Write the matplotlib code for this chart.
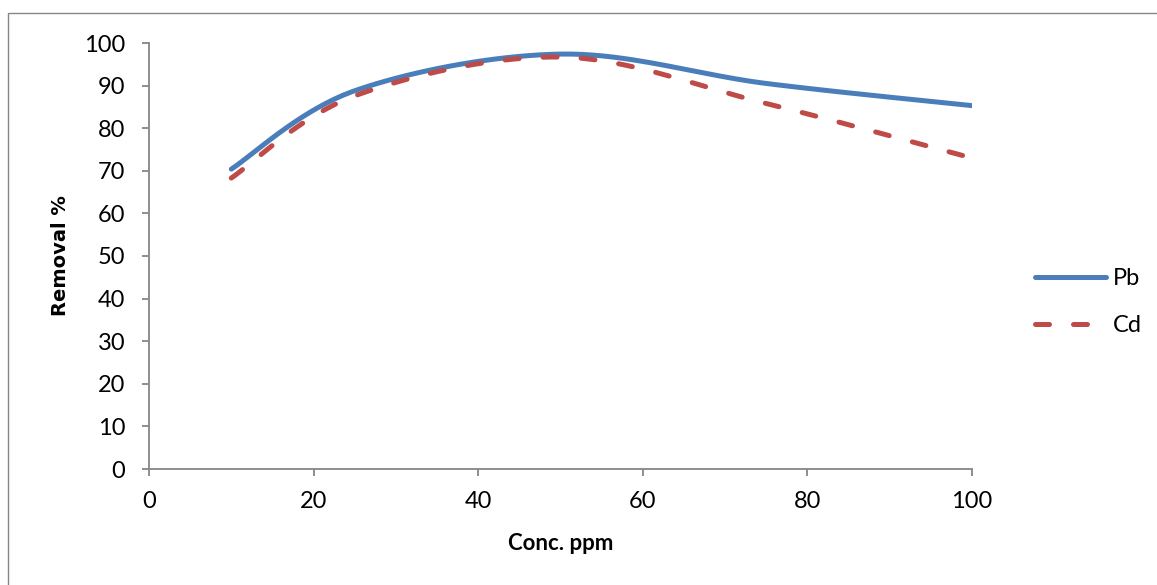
import numpy as np
import matplotlib
matplotlib.use("Agg")
import matplotlib.pyplot as plt
from matplotlib.patches import Rectangle

conc = [10, 25, 50, 75, 100]
pb = [70.4, 88.8, 97.4, 90.5, 85.3]
cd = [68.3, 87.6, 96.7, 85.8, 73.0]
xticks = [0, 20, 40, 60, 80, 100]
yticks = list(range(0, 101, 10))

plt.rcParams['font.family'] = ['Lato', 'DejaVu Sans']


def smooth(x, y, n=40):
    # Excel-style smoothed line (Catmull-Rom Bezier)
    x = np.asarray(x, float); y = np.asarray(y, float)
    px = np.concatenate([[x[0]], x, [x[-1]]])
    py = np.concatenate([[y[0]], y, [y[-1]]])
    xs, ys = [], []
    t = np.linspace(0, 1, n)
    for i in range(1, len(px) - 2):
        p0 = np.array([px[i], py[i]])
        p3 = np.array([px[i + 1], py[i + 1]])
        c1 = p0 + (np.array([px[i + 1], py[i + 1]]) - np.array([px[i - 1], py[i - 1]])) / 6
        c2 = p3 - (np.array([px[i + 2], py[i + 2]]) - np.array([px[i], py[i]])) / 6
        b = ((1 - t) ** 3)[:, None] * p0 + (3 * (1 - t) ** 2 * t)[:, None] * c1 + \
            (3 * (1 - t) * t ** 2)[:, None] * c2 + (t ** 3)[:, None] * p3
        xs.append(b[:, 0]); ys.append(b[:, 1])
    return np.concatenate(xs), np.concatenate(ys)


fig = plt.figure(figsize=(11.57, 5.85), dpi=100)
W, H = 1157, 585
ax = fig.add_axes([149 / W, 1 - 469 / H, (972 - 149) / W, (469 - 43) / H])

sx, sy = smooth(conc, pb)
ax.plot(sx, sy, color='#4A7EBB', lw=3.6, solid_capstyle='round', label='Pb')
sx, sy = smooth(conc, cd)
ax.plot(sx, sy, color='#BE4B48', lw=3.6, dashes=(2.8, 4.8), dash_capstyle='round', label='Cd')

ax.set_xlim(0, 100)
ax.set_ylim(0, 100)
ax.set_xticks(xticks)
ax.set_yticks(yticks)
ax.tick_params(axis='both', labelsize=17, color='#868686', length=5, width=1.3, direction='out')
ax.tick_params(axis='x', pad=11)
ax.tick_params(axis='y', pad=12)
for s in ['top', 'right']:
    ax.spines[s].set_visible(False)
for s in ['left', 'bottom']:
    ax.spines[s].set_color('#868686')
    ax.spines[s].set_linewidth(1.3)
ax.set_xlabel('Conc. ppm', fontsize=16, fontweight='bold', labelpad=15)
ax.set_ylabel('Removal %', fontsize=14, fontweight='bold', family=['DejaVu Sans'], labelpad=10)

leg = fig.legend(loc='center left', bbox_to_anchor=(1035 / W, 1 - 302 / H), frameon=False,
                 fontsize=17, handlelength=3.0, handletextpad=0.3, labelspacing=1.12, borderpad=0,
                 borderaxespad=0)

fig.patches.append(Rectangle((8 / W, -0.01), 1.05, 1 - 13 / H + 0.01, transform=fig.transFigure,
                             fill=False, edgecolor='#868686', lw=1.0))

fig.savefig('out.png', dpi=100)
